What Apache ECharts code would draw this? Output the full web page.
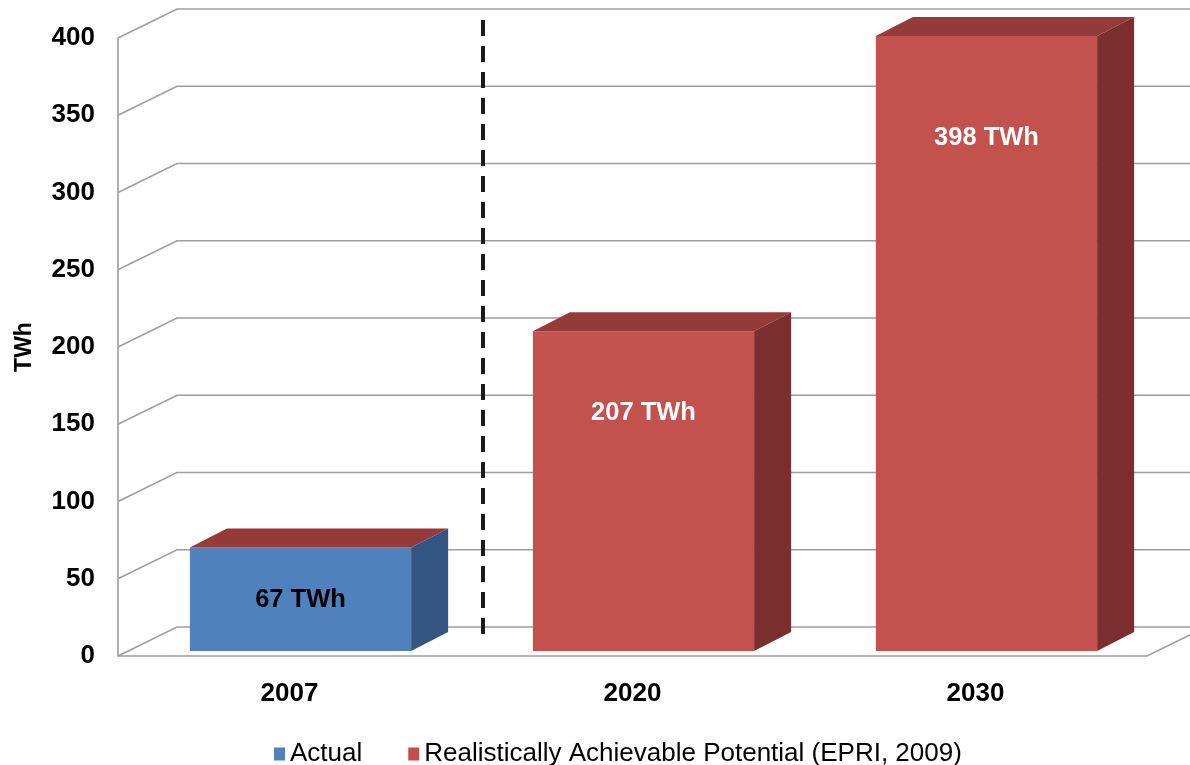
<!DOCTYPE html>
<html>
<head>
<meta charset="utf-8">
<script src="https://cdn.jsdelivr.net/npm/echarts@6/dist/echarts.min.js"></script>
<style>
html, body { margin: 0; padding: 0; background: #fff; }
#main { width: 1190px; height: 765px; }
</style>
</head>
<body>
<div id="main"></div>
<script>
// data
var years = ['2007', '2020', '2030'];
var actual = [67, null, null];
var potential = [null, 207, 398];
var yTicks = [0, 50, 100, 150, 200, 250, 300, 350, 400];
var unit = 'TWh';

// pseudo 3d settings
var WALL_DX = 59, WALL_DY = -29;   // back wall offset
var BAR_DX = 11, BAR_DY = -5;      // bar front face offset
var DEPTH_DX = 37, DEPTH_DY = -19; // bar depth
var labelDrop = [52, 82, 102];
var labelColor = ['#000', '#fff', '#fff'];
var FONT = '"Liberation Sans", Arial, sans-serif';

function toPairs(arr) {
    var out = [];
    arr.forEach(function (v, i) {
        if (v != null) out.push([i, v]);
    });
    return out;
}

function makeBar(front, topColor, side) {
    return function (params, api) {
        var i = api.value(0), v = api.value(1);
        var base = api.coord([i, 0]);
        var top = api.coord([i, v]);
        var w = api.size([1, 0])[0] * 0.645;
        var cx = base[0] + BAR_DX;
        var L = cx - w / 2, R = cx + w / 2;
        var T = top[1] + BAR_DY, B = base[1] + BAR_DY;
        return {
            type: 'group',
            children: [
                { type: 'rect', shape: { x: L, y: T, width: w, height: B - T }, style: { fill: front } },
                { type: 'polygon', shape: { points: [[L, T], [R, T], [R + DEPTH_DX, T + DEPTH_DY], [L + DEPTH_DX, T + DEPTH_DY]] }, style: { fill: topColor } },
                { type: 'polygon', shape: { points: [[R, T], [R + DEPTH_DX, T + DEPTH_DY], [R + DEPTH_DX, B + DEPTH_DY], [R, B]] }, style: { fill: side } },
                {
                    type: 'text', x: cx, y: T + labelDrop[i],
                    style: { text: v + ' ' + unit, fill: labelColor[i], font: 'bold 25.5px ' + FONT, align: 'center', verticalAlign: 'middle' }
                }
            ]
        };
    };
}

function renderWall(params, api) {
    var cs = params.coordSys;
    var x0 = cs.x, xR = cs.x + cs.width;
    var v = api.value(1);
    var y = api.coord([0, v])[1];
    var lineStyle = { stroke: '#9E9E9E', lineWidth: 1.6, fill: null };
    var children = [{
        type: 'polyline',
        shape: { points: [[x0, y], [x0 + WALL_DX, y + WALL_DY], [xR + WALL_DX + 20, y + WALL_DY]] },
        style: lineStyle
    }];
    if (v === 0) {
        children.push({
            type: 'polyline',
            shape: { points: [[x0, y], [xR, y], [xR + WALL_DX, y + WALL_DY]] },
            style: lineStyle
        });
    }
    return { type: 'group', children: children };
}

function renderDivider(params, api) {
    var c0 = api.coord([0, 0]);
    var c1 = api.coord([1, 0]);
    var top = api.coord([0, api.value(1)]);
    var x = (c0[0] + c1[0]) / 2 + 22;
    return {
        type: 'line',
        shape: { x1: x, y1: top[1] - 18, x2: x, y2: c0[1] - 16 },
        style: { stroke: '#1a1a1a', lineWidth: 4, lineDash: [16, 10] }
    };
}

var myChart = echarts.init(document.getElementById('main'));

var option = {
    animation: false,
    grid: { left: 118, right: 43, top: 38, bottom: 109 },
    legend: {
        left: 269,
        top: 736,
        itemWidth: 11,
        itemHeight: 13,
        itemGap: 46,
        icon: 'rect',
        textStyle: { fontSize: 26, color: '#000', fontFamily: FONT },
        data: [
            { name: 'Actual', itemStyle: { color: '#4F81BD' } },
            { name: 'Realistically Achievable Potential (EPRI, 2009)', itemStyle: { color: '#C0504D' } }
        ]
    },
    xAxis: {
        type: 'category',
        data: years,
        axisLine: { show: false },
        axisTick: { show: false },
        axisLabel: { margin: 25, fontSize: 26, fontWeight: 'bold', color: '#000', fontFamily: FONT }
    },
    yAxis: {
        type: 'value',
        min: 0,
        max: 400,
        interval: 50,
        name: unit,
        nameLocation: 'middle',
        nameRotate: 90,
        nameGap: 82,
        nameTextStyle: { fontSize: 23, fontWeight: 'bold', color: '#000', fontFamily: FONT },
        axisLine: { show: true, lineStyle: { color: '#9E9E9E', width: 1.6 } },
        axisTick: { show: false },
        splitLine: { show: false },
        axisLabel: { margin: 23, fontSize: 26, fontWeight: 'bold', color: '#000', fontFamily: FONT, padding: [6, 0, 0, 0] }
    },
    series: [
        {
            name: 'wall',
            type: 'custom',
            silent: true,
            z: 1,
            renderItem: renderWall,
            encode: { x: 0, y: 1 },
            data: yTicks.map(function (v) { return [0, v]; })
        },
        {
            name: 'Actual',
            type: 'custom',
            z: 3,
            itemStyle: { color: '#4F81BD' },
            renderItem: makeBar('#4F81BD', '#943B39', '#335581'),
            encode: { x: 0, y: 1 },
            data: toPairs(actual)
        },
        {
            name: 'Realistically Achievable Potential (EPRI, 2009)',
            type: 'custom',
            z: 3,
            itemStyle: { color: '#C0504D' },
            renderItem: makeBar('#C3524F', '#933B39', '#7A2F2E'),
            encode: { x: 0, y: 1 },
            data: toPairs(potential)
        },
        {
            name: 'divider',
            type: 'custom',
            silent: true,
            z: 4,
            renderItem: renderDivider,
            encode: { x: 0, y: 1 },
            data: [[0, yTicks[yTicks.length - 1]]]
        }
    ]
};

myChart.setOption(option);
</script>
</body>
</html>
